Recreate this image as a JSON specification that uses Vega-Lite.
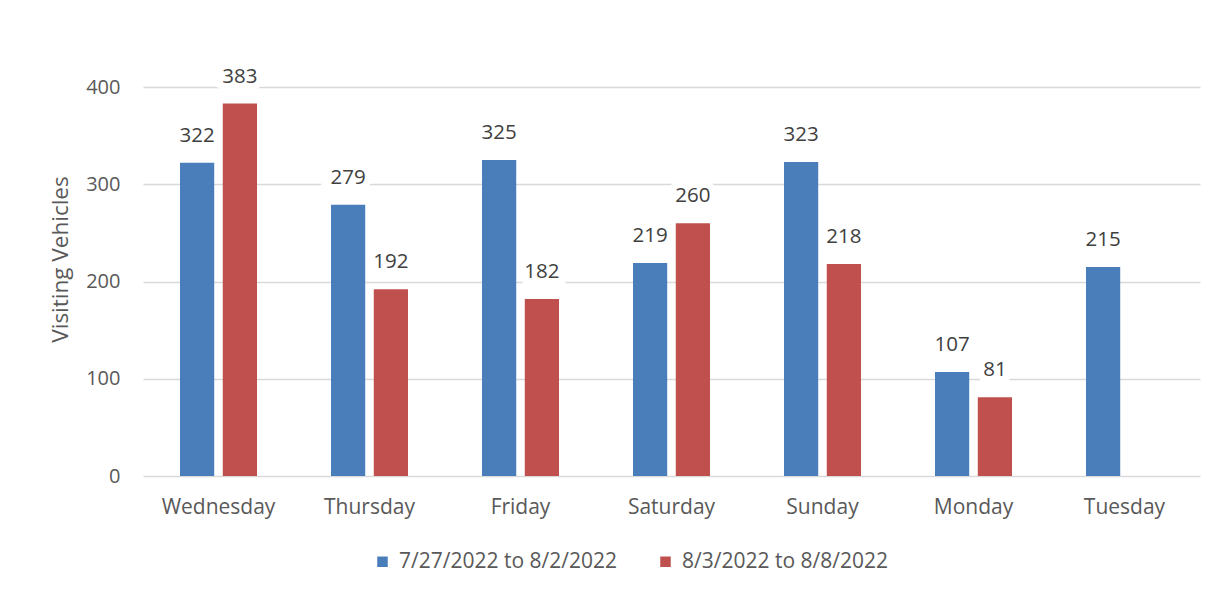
{
  "$schema": "https://vega.github.io/schema/vega-lite/v6.json",
  "autosize": {"type": "none"},
  "width": 1057,
  "height": 389,
  "padding": {"left": 143, "top": 87, "right": 25, "bottom": 118},
  "background": "white",
  "data": {"values": [
    {"day": "Wednesday", "period": "7/27/2022 to 8/2/2022", "vehicles": 322},
    {"day": "Wednesday", "period": "8/3/2022 to 8/8/2022", "vehicles": 383},
    {"day": "Thursday", "period": "7/27/2022 to 8/2/2022", "vehicles": 279},
    {"day": "Thursday", "period": "8/3/2022 to 8/8/2022", "vehicles": 192},
    {"day": "Friday", "period": "7/27/2022 to 8/2/2022", "vehicles": 325},
    {"day": "Friday", "period": "8/3/2022 to 8/8/2022", "vehicles": 182},
    {"day": "Saturday", "period": "7/27/2022 to 8/2/2022", "vehicles": 219},
    {"day": "Saturday", "period": "8/3/2022 to 8/8/2022", "vehicles": 260},
    {"day": "Sunday", "period": "7/27/2022 to 8/2/2022", "vehicles": 323},
    {"day": "Sunday", "period": "8/3/2022 to 8/8/2022", "vehicles": 218},
    {"day": "Monday", "period": "7/27/2022 to 8/2/2022", "vehicles": 107},
    {"day": "Monday", "period": "8/3/2022 to 8/8/2022", "vehicles": 81},
    {"day": "Tuesday", "period": "7/27/2022 to 8/2/2022", "vehicles": 215}
  ]},
  "encoding": {
    "x": {
      "field": "day", "type": "nominal",
      "sort": ["Wednesday", "Thursday", "Friday", "Saturday", "Sunday", "Monday", "Tuesday"],
      "scale": {"paddingInner": 0.49, "paddingOuter": 0.245},
      "axis": {"title": null, "labelAngle": 0, "domain": false, "ticks": false, "labelPadding": 20, "labelFontSize": 21, "labelColor": "#595959", "labelFont": "Open Sans"}
    },
    "xOffset": {
      "field": "period", "type": "nominal",
      "scale": {"domain": ["7/27/2022 to 8/2/2022", "8/3/2022 to 8/8/2022"], "paddingInner": 0.2, "paddingOuter": 0}
    },
    "y": {
      "field": "vehicles", "type": "quantitative",
      "scale": {"domain": [0, 400], "nice": false},
      "axis": {"title": "Visiting Vehicles", "values": [0, 100, 200, 300, 400], "domain": false, "ticks": false, "labelPadding": 23, "labelFontSize": 20, "labelColor": "#595959", "labelFont": "Open Sans", "titleFontSize": 22.5, "titleFontWeight": "normal", "titleColor": "#595959", "titleFont": "Open Sans", "titlePadding": 13, "titleY": 172, "gridColor": "#D9D9D9", "gridWidth": 1.5}
    }
  },
  "layer": [
    {
      "mark": {"type": "text", "baseline": "bottom", "dy": -17, "fontSize": 20.5, "font": "Open Sans", "stroke": "white", "strokeWidth": 14, "fill": "white"},
      "encoding": {"text": {"field": "vehicles", "type": "quantitative"}}
    },
    {
      "mark": {"type": "bar"},
      "encoding": {
        "color": {
          "field": "period", "type": "nominal",
          "scale": {"domain": ["7/27/2022 to 8/2/2022", "8/3/2022 to 8/8/2022"], "range": ["#4A7EBB", "#C0504D"]},
          "legend": {"title": null, "orient": "none", "legendX": 229, "legendY": 464, "direction": "horizontal", "symbolType": "square", "symbolSize": 110, "symbolStrokeWidth": 0, "labelFontSize": 21, "labelColor": "#595959", "labelFont": "Open Sans", "labelLimit": 400, "columnPadding": 38, "labelOffset": 6}
        }
      }
    },
    {
      "mark": {"type": "text", "baseline": "bottom", "dy": -17, "fontSize": 20.5, "font": "Open Sans", "color": "#404040"},
      "encoding": {"text": {"field": "vehicles", "type": "quantitative"}}
    }
  ],
  "config": {"view": {"stroke": null}}
}
